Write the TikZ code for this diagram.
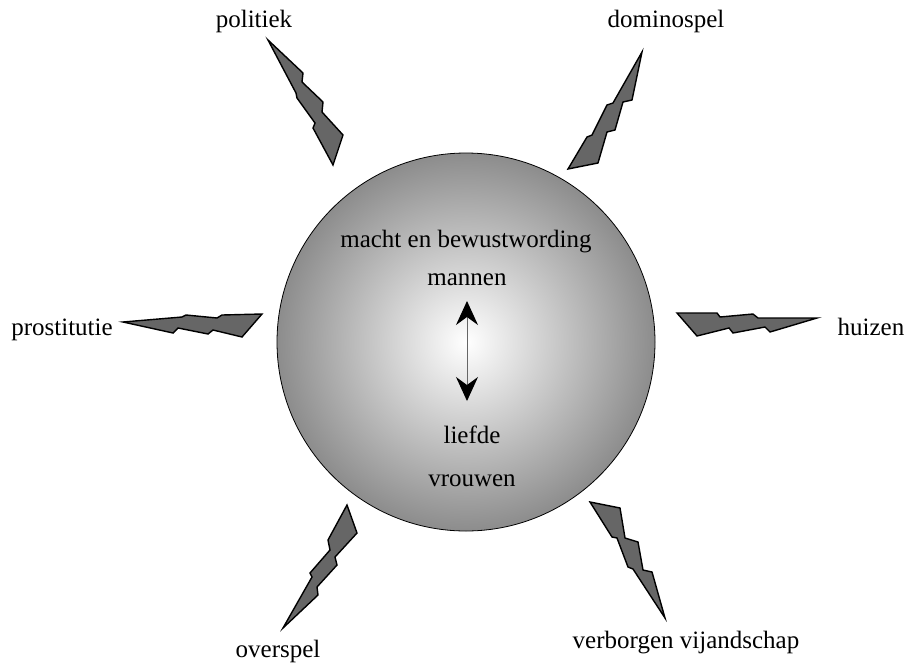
\documentclass[tikz,border=0pt]{standalone}
\usepackage{fontspec}
\setmainfont{Liberation Serif}
\usetikzlibrary{arrows.meta}
\begin{document}
\begin{tikzpicture}[x=1pt,y=-1pt,
  bolt/.style={fill=black!60, draw=black, line width=1.4pt, line join=miter},
  lbl/.style={anchor=base, inner sep=0pt, font=\fontsize{25}{30}\selectfont},
  sphere/.style={circle, draw=black, line width=0.8pt, minimum size=378pt, inner sep=0pt,
    inner color=white, outer color=black!45}]
\useasboundingbox (0,0) rectangle (907,662);
% sphere
\node[sphere] (ball) at (466,342) {};
% labels
\node[lbl] (politiek) at (254,27) {politiek};
\node[lbl] (domino) at (666,27) {dominospel};
\node[lbl] (prost) at (62,335) {prostitutie};
\node[lbl] (huizen) at (871,335) {huizen};
\node[lbl] (overspel) at (278,657) {overspel};
\node[lbl] (verborgen) at (686,648) {verborgen vijandschap};
\node[lbl] (macht) at (466,247) {macht en bewustwording};
\node[lbl] (mannen) at (467,285) {mannen};
\node[lbl] (liefde) at (472,443) {liefde};
\node[lbl] (vrouwen) at (472,486) {vrouwen};
% arrow
\coordinate (atop) at (467,301);
\coordinate (abot) at (467,401);
\draw[black!60, line width=1pt,
  {Stealth[color=black,length=24pt,width=22pt,inset=8pt]}-{Stealth[color=black,length=24pt,width=22pt,inset=8pt]}]
  (atop) -- (abot);
% bolts
\draw[bolt] (268,40) -- (303,73) -- (302,82) -- (323,102) -- (322,112) -- (343,135) -- (333,165)
  -- (313,128) -- (315,123) -- (297,98) -- (296,93) -- cycle;
\draw[bolt] (642,52) -- (632,100) -- (623,102) -- (615,130) -- (607,132) -- (598,163) -- (568,169)
  -- (587,137) -- (592,135) -- (607,105) -- (613,103) -- cycle;
\draw[bolt] (123,322) -- (182,317) -- (186,315) -- (217,318) -- (222,315) -- (262,314) -- (242,337)
  -- (213,330) -- (208,334) -- (178,328) -- (173,333) -- cycle;
\draw[bolt] (677,313) -- (717,313) -- (720,317) -- (753,314) -- (758,318) -- (817,318) -- (770,332)
  -- (765,327) -- (733,333) -- (729,328) -- (697,336) -- cycle;
\draw[bolt] (347,505) -- (357,533) -- (335,557) -- (337,565) -- (317,587) -- (318,595) -- (283,628)
  -- (312,577) -- (310,573) -- (330,550) -- (328,540) -- cycle;
\draw[bolt] (590,502) -- (620,508) -- (625,538) -- (638,542) -- (643,570) -- (652,572) -- (665,618)
  -- (633,569) -- (628,567) -- (617,538) -- (612,537) -- cycle;
\end{tikzpicture}
\end{document}
